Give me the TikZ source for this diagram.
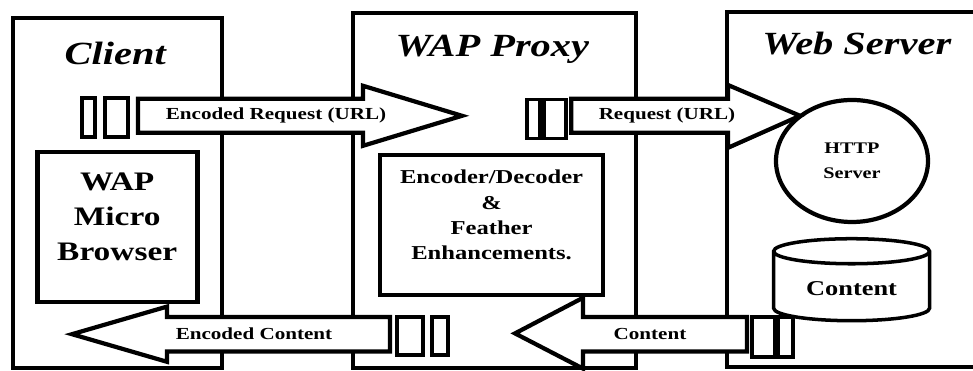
\documentclass[tikz,border=0pt]{standalone}
\usepackage{fontspec}
\setmainfont{Liberation Serif}[FakeStretch=1.25]
\usetikzlibrary{shapes.geometric}

\begin{document}
\begin{tikzpicture}[
  tier/.style={line width=3pt},
  title/.style={anchor=base, font=\fontsize{23}{26}\selectfont\bfseries\itshape},
  block/.style={draw, line width=3.5pt},
  blocktext/.style={align=center, font=\fontsize{19}{25}\selectfont\bfseries},
  bigarrow/.style={draw, fill=white, line width=3pt},
  port/.style={draw, fill=white, line width=2.6pt, inner sep=0pt},
  lbl/.style={font=\fontsize{12}{14}\selectfont\bfseries}
]
\useasboundingbox (0,0) rectangle (24.325,9.275);

% three tiers
\draw[tier] (0.33,0.08) rectangle (5.55,8.83);
\draw[tier] (8.83,0.08) rectangle (15.9,8.95);
\draw[tier] (24.6,8.97) -- (18.17,8.97) -- (18.17,0.1) -- (24.6,0.1);

\node[title] (tclient) at (2.88,7.65) {Client};
\node[title] (tproxy) at (12.31,7.85) {WAP Proxy};
\node[title] (tserver) at (21.42,7.9) {Web Server};

% client side
\node[block, minimum width=4.0cm, minimum height=3.75cm] (browser) at (2.93,3.6) {};
\node[blocktext] (browsertxt) at (2.93,3.85) {WAP\\Micro\\Browser};

% proxy
\node[block, line width=2.5pt, minimum width=5.575cm, minimum height=3.5cm] (codec) at (12.29,3.65) {};
\node[blocktext, font=\fontsize{14}{18}\selectfont\bfseries] (codectxt) at (12.29,3.9)
  {Encoder/Decoder\\\&\\Feather\\Enhancements.};

% server
\node[draw, ellipse, line width=3pt, minimum width=3.8cm, minimum height=3.05cm,
      align=center, font=\fontsize{11.5}{18}\selectfont\bfseries] (http) at (21.3,5.25) {HTTP\\Server};
\node[draw, cylinder, shape border rotate=90, aspect=0.25, line width=2.5pt,
      minimum width=3.9cm, minimum height=2.05cm,
      font=\fontsize{15}{18}\selectfont\bfseries] (content) at (21.29,2.05) {Content};

% request path
\draw[bigarrow] (3.45,6.805) -- (9.075,6.805) -- (9.075,7.13) -- (11.55,6.38)
  -- (9.075,5.63) -- (9.075,5.955) -- (3.45,5.955) -- cycle;
\node[lbl] (lencreq) at (6.9,6.4) {Encoded Request (URL)};

\draw[bigarrow] (14.28,6.805) -- (18.2,6.805) -- (18.2,7.15) -- (20.0,6.38)
  -- (18.2,5.58) -- (18.2,5.955) -- (14.28,5.955) -- cycle;
\node[lbl] (lreq) at (16.675,6.4) {Request (URL)};

% response path
\draw[bigarrow] (9.75,1.35) -- (4.175,1.35) -- (4.175,1.61) -- (1.8,0.92)
  -- (4.175,0.23) -- (4.175,0.49) -- (9.75,0.49) -- cycle;
\node[lbl] (lenccont) at (6.35,0.93) {Encoded Content};

\draw[bigarrow] (18.675,1.35) -- (14.575,1.35) -- (14.575,1.83) -- (12.875,0.94)
  -- (14.575,0.06) -- (14.575,0.49) -- (18.675,0.49) -- cycle;
\node[lbl] (lcont) at (16.25,0.93) {Content};

% ports
\node[port, minimum width=0.33cm, minimum height=0.98cm] (cp1) at (2.21,6.34) {};
\node[port, minimum width=0.575cm, minimum height=0.98cm] (cp2) at (2.91,6.34) {};
\node[port, minimum width=0.33cm, minimum height=0.98cm] (pp1) at (13.34,6.3) {};
\node[port, minimum width=0.55cm, minimum height=0.98cm] (pp2) at (13.875,6.3) {};
\node[port, minimum width=0.65cm, minimum height=0.95cm] (pp3) at (10.25,0.875) {};
\node[port, minimum width=0.4cm, minimum height=0.95cm] (pp4) at (11.0,0.875) {};
\node[port, minimum width=0.575cm, minimum height=1.0cm] (sp1) at (19.09,0.85) {};
\node[port, minimum width=0.375cm, minimum height=1.0cm] (sp2) at (19.64,0.85) {};
\end{tikzpicture}
\end{document}
